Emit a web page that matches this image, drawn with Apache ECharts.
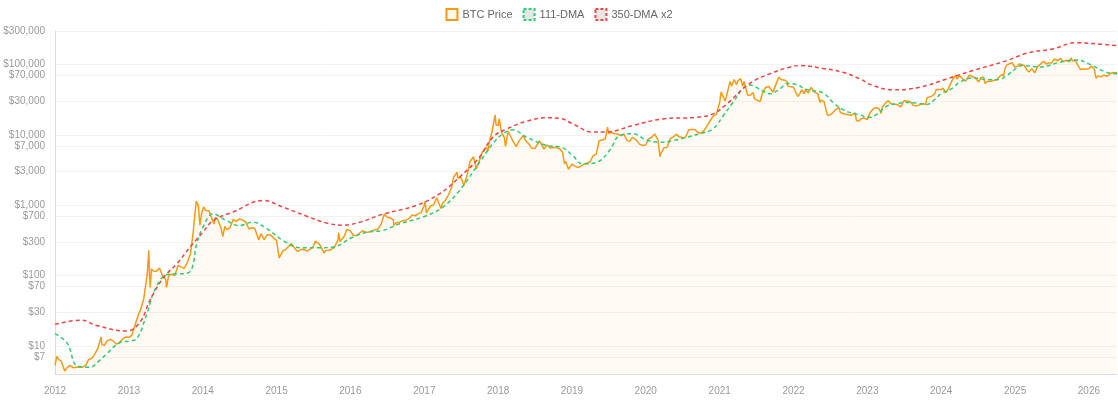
<!DOCTYPE html>
<html>
<head>
<meta charset="utf-8">
<script src="https://cdn.jsdelivr.net/npm/echarts@6/dist/echarts.min.js"></script>
<style>
  html, body { margin: 0; padding: 0; background: #fff; }
  #main { width: 1118px; height: 400px; }
</style>
</head>
<body>
<div id="main"></div>
<script>
// BTC price, sampled roughly twice a month plus the main highs/lows
const priceDates = [
  '2012-01-01','2012-01-10','2012-01-20','2012-02-01','2012-02-18','2012-03-01','2012-03-15','2012-04-01','2012-04-15','2012-05-01','2012-05-15','2012-06-01','2012-06-15','2012-07-01','2012-07-15','2012-08-01','2012-08-16','2012-08-20','2012-09-01','2012-09-15','2012-10-01','2012-10-15','2012-11-01','2012-11-15','2012-12-01','2012-12-15',
  '2013-01-01','2013-01-15','2013-02-01','2013-02-15','2013-03-01','2013-03-15','2013-04-01','2013-04-09','2013-04-12','2013-04-16','2013-04-22','2013-05-01','2013-05-15','2013-06-01','2013-06-15','2013-07-01','2013-07-06','2013-07-15','2013-08-01','2013-08-15','2013-09-01','2013-09-15','2013-10-01','2013-10-15','2013-11-01','2013-11-15','2013-11-19','2013-11-30','2013-12-04','2013-12-10','2013-12-18','2013-12-26',
  '2014-01-05','2014-01-15','2014-02-01','2014-02-15','2014-02-25','2014-03-05','2014-03-15','2014-04-01','2014-04-10','2014-04-20','2014-05-01','2014-05-15','2014-06-01','2014-06-15','2014-07-01','2014-07-15','2014-08-01','2014-08-18','2014-09-01','2014-09-15','2014-10-05','2014-10-15','2014-11-01','2014-11-15','2014-12-01','2014-12-15',
  '2015-01-01','2015-01-14','2015-02-01','2015-02-15','2015-03-01','2015-03-15','2015-04-01','2015-04-15','2015-05-01','2015-05-15','2015-06-01','2015-06-15','2015-07-01','2015-07-12','2015-08-01','2015-08-24','2015-09-01','2015-09-15','2015-10-01','2015-10-15','2015-11-01','2015-11-04','2015-11-11','2015-11-20','2015-12-01','2015-12-15',
  '2016-01-01','2016-01-15','2016-02-01','2016-02-15','2016-03-01','2016-03-15','2016-04-01','2016-04-15','2016-05-01','2016-05-15','2016-06-01','2016-06-17','2016-07-01','2016-07-15','2016-08-01','2016-08-03','2016-08-15','2016-09-01','2016-09-15','2016-10-01','2016-10-15','2016-11-01','2016-11-15','2016-12-01','2016-12-15',
  '2017-01-01','2017-01-04','2017-01-11','2017-01-15','2017-02-01','2017-02-15','2017-03-03','2017-03-24','2017-04-01','2017-04-15','2017-05-01','2017-05-15','2017-05-25','2017-06-01','2017-06-12','2017-06-15','2017-07-01','2017-07-16','2017-08-01','2017-08-15','2017-09-01','2017-09-15','2017-10-01','2017-10-15','2017-11-01','2017-11-12','2017-11-15','2017-12-01','2017-12-17','2017-12-22',
  '2018-01-01','2018-01-06','2018-01-17','2018-02-01','2018-02-06','2018-02-20','2018-03-01','2018-03-15','2018-04-01','2018-04-15','2018-05-05','2018-05-15','2018-06-01','2018-06-15','2018-07-01','2018-07-24','2018-08-01','2018-08-15','2018-09-01','2018-09-15','2018-10-01','2018-10-15','2018-11-01','2018-11-15','2018-11-25','2018-12-01','2018-12-15',
  '2019-01-01','2019-01-15','2019-02-01','2019-02-15','2019-03-01','2019-03-15','2019-04-01','2019-04-15','2019-05-01','2019-05-15','2019-06-01','2019-06-15','2019-06-26','2019-07-01','2019-07-15','2019-08-01','2019-08-15','2019-09-01','2019-09-15','2019-10-01','2019-10-15','2019-10-26','2019-11-01','2019-11-15','2019-12-01','2019-12-15',
  '2020-01-01','2020-01-15','2020-02-01','2020-02-14','2020-03-01','2020-03-12','2020-03-15','2020-04-01','2020-04-15','2020-05-01','2020-05-15','2020-06-01','2020-06-15','2020-07-01','2020-07-15','2020-08-01','2020-08-15','2020-09-01','2020-09-15','2020-10-01','2020-10-15','2020-11-01','2020-11-15','2020-12-01','2020-12-15',
  '2021-01-01','2021-01-08','2021-01-15','2021-01-27','2021-02-01','2021-02-15','2021-02-21','2021-03-01','2021-03-13','2021-03-25','2021-04-01','2021-04-14','2021-04-25','2021-05-01','2021-05-10','2021-05-19','2021-06-01','2021-06-15','2021-06-22','2021-07-01','2021-07-20','2021-08-01','2021-08-15','2021-09-01','2021-09-07','2021-09-21','2021-10-01','2021-10-20','2021-11-01','2021-11-10','2021-11-20','2021-12-01','2021-12-04','2021-12-15',
  '2022-01-01','2022-01-22','2022-02-01','2022-02-10','2022-02-24','2022-03-01','2022-03-15','2022-03-29','2022-04-15','2022-05-01','2022-05-12','2022-05-15','2022-06-01','2022-06-18','2022-07-01','2022-07-15','2022-08-01','2022-08-14','2022-08-20','2022-09-01','2022-09-15','2022-10-01','2022-10-15','2022-11-01','2022-11-09','2022-11-21','2022-12-01','2022-12-15',
  '2023-01-01','2023-01-15','2023-02-01','2023-02-15','2023-03-01','2023-03-10','2023-03-15','2023-04-01','2023-04-14','2023-05-01','2023-05-15','2023-06-01','2023-06-15','2023-07-01','2023-07-15','2023-08-01','2023-08-18','2023-09-01','2023-09-15','2023-10-01','2023-10-15','2023-10-24','2023-11-01','2023-11-15','2023-12-01','2023-12-08','2023-12-15',
  '2024-01-01','2024-01-11','2024-01-23','2024-02-01','2024-02-15','2024-02-28','2024-03-14','2024-03-19','2024-04-01','2024-04-15','2024-05-01','2024-05-20','2024-06-01','2024-06-15','2024-07-05','2024-07-15','2024-07-29','2024-08-05','2024-08-15','2024-09-01','2024-09-06','2024-09-15','2024-10-01','2024-10-15','2024-10-29','2024-11-04','2024-11-13','2024-11-22','2024-12-01','2024-12-17','2024-12-30',
  '2025-01-13','2025-01-20','2025-02-01','2025-02-15','2025-02-28','2025-03-10','2025-03-24','2025-04-08','2025-04-22','2025-05-01','2025-05-22','2025-06-05','2025-06-15','2025-06-22','2025-07-01','2025-07-14','2025-08-01','2025-08-13','2025-08-25','2025-09-01','2025-09-15','2025-09-25','2025-10-06','2025-10-10','2025-10-17','2025-10-27','2025-11-04','2025-11-13','2025-11-21','2025-12-01','2025-12-10','2025-12-18',
  '2026-01-01','2026-01-14','2026-01-28','2026-02-05','2026-02-15','2026-03-01','2026-03-15','2026-04-01','2026-04-15','2026-05-01','2026-05-10','2026-05-20'
];
const priceValues = [
  5.3,7.1,6.4,6.1,4.4,4.9,5.3,4.9,5.0,5.0,5.0,5.3,6.4,6.7,7.6,9.4,13.5,10.5,10.2,11.8,12.4,11.8,10.6,11.3,12.6,13.4,
  13.3,14.2,20.4,27,34,47,104,230,110,68,125,116,115,128,101,89,68,98,105,100,140,133,127,150,205,420,580,1150,1200,980,520,760,
  950,850,830,650,540,670,635,480,360,500,450,480,630,590,640,620,580,460,480,470,320,395,325,380,380,350,
  315,178,225,235,260,285,245,220,235,237,223,236,260,310,280,210,228,230,237,255,325,410,305,325,360,455,
  434,375,372,400,435,415,417,430,450,455,535,750,675,665,620,520,565,575,605,615,640,730,710,755,780,
  1000,1140,780,820,985,1010,1280,900,1080,1180,1420,1750,2500,2450,2950,2450,2480,1930,2720,4200,4900,3300,4400,5700,6700,5900,7300,10900,19300,13800,
  13600,17100,11100,9100,6900,11200,10900,8200,6800,8300,9700,8500,7500,6500,6400,8200,7600,6300,7200,6500,6600,6600,6350,5700,3900,4200,3250,
  3850,3600,3450,3600,3820,3950,4150,5050,5350,8200,8550,8800,12900,10600,10800,10400,10300,9750,10300,8300,8150,9250,9200,8500,7400,7100,
  7200,8800,9350,10350,8550,4900,5400,6600,6650,8850,9300,10200,9400,9230,9200,11800,11900,11900,10800,10600,11500,13700,15900,18800,19400,
  29400,40800,36800,30400,33500,48700,57500,49600,61200,52000,58800,63500,49000,57800,55900,37000,36600,40200,32500,33500,29800,39900,47100,48800,46900,40600,48200,66000,61300,65000,59700,57200,49400,48900,
  47700,35100,38700,43900,38300,44400,39300,47400,40500,38500,28900,31300,29800,19000,19300,20800,23300,24400,21100,20100,19700,19300,19100,20500,15900,15800,17000,17400,
  16600,20900,23700,24300,23600,20200,24300,28500,30500,27600,27200,26800,25100,30600,30300,29700,26100,25900,26600,27900,27000,33900,35400,35500,38700,44200,41900,
  44200,46300,39500,43100,51900,62500,71400,62000,69700,63400,58300,71400,67800,66200,56700,64800,66800,54000,57500,57300,53900,59200,60800,67000,72700,67800,90500,98900,97200,106100,92300,
  94500,102000,100600,97500,84400,78500,87500,76300,93400,96500,111600,101500,105500,100900,105700,119800,113300,123300,110100,109200,115300,109000,124700,113200,106500,114100,101500,99700,85000,86300,92000,85500,
  88000,95000,86000,64000,69000,67000,71000,68000,74000,77000,80000,76500
];

// 111-day moving average
const dma111Dates = [
  '2012-01-01','2012-03-01','2012-04-20','2012-06-20','2012-08-10','2012-09-12','2012-11-17','2013-01-07','2013-02-10','2013-03-31','2013-05-08','2013-07-08','2013-08-25','2013-10-15','2013-11-10','2013-12-02',
  '2014-01-02','2014-02-21','2014-04-27','2014-07-01','2014-09-05','2014-11-13','2015-02-02','2015-04-28','2015-08-04','2015-10-05','2016-01-12','2016-03-21','2016-06-09','2016-09-01','2016-12-25',
  '2017-04-02','2017-06-24','2017-10-01','2017-12-05','2018-01-25','2018-03-15','2018-05-21','2018-08-30','2018-11-10','2019-01-04','2019-02-23','2019-05-04','2019-07-06','2019-08-25','2019-10-30',
  '2020-01-04','2020-03-10','2020-05-15','2020-07-23','2020-09-24','2020-11-29','2021-01-19','2021-03-08','2021-04-25','2021-05-27','2021-07-16','2021-09-03','2021-10-26','2021-12-01',
  '2022-01-15','2022-03-10','2022-05-27','2022-07-15','2022-09-01','2022-10-15','2022-11-20','2023-01-08','2023-02-20','2023-04-05','2023-06-01','2023-07-10','2023-09-01','2023-10-20','2023-12-01',
  '2024-01-01','2024-03-01','2024-04-01','2024-06-06','2024-08-28','2024-10-15','2024-11-21','2025-01-10','2025-02-10','2025-05-05','2025-08-10','2025-11-01','2026-01-01','2026-03-28','2026-05-20'
];
const dma111Values = [
  15,11,5.2,5.0,6.3,7.7,11.2,11.8,12.8,29,62,104,106,108,131,284,
  488,757,608,516,575,466,316,249,249,254,351,415,438,546,680,
  940,1625,4080,7480,10400,11800,9300,7070,6690,5110,3880,4090,6020,9800,10400,
  8500,7900,8320,9300,10400,12200,18900,29100,45100,51400,45100,38400,45100,54000,
  52000,44000,39500,29000,23000,20500,19500,17800,19900,25500,28000,28800,28500,27000,32000,
  38500,47000,56000,64700,60600,61500,69800,90000,96800,92000,108000,116600,102300,77800,73800
];

// 350-day moving average x2
const dma350Dates = [
  '2012-01-01','2012-05-10','2012-07-26','2012-12-20','2013-02-25','2013-04-15','2013-06-22','2013-08-25','2013-10-30','2014-01-02','2014-02-21','2014-05-30','2014-10-27',
  '2015-02-02','2015-05-30','2015-09-05','2015-11-25','2016-02-17','2016-06-10','2016-11-24','2017-03-18','2017-06-24','2017-10-01','2017-12-06',
  '2018-02-14','2018-05-21','2018-08-30','2018-11-03','2019-01-04','2019-04-12','2019-06-20','2019-10-30','2020-03-25','2020-09-08','2020-11-28',
  '2021-02-05','2021-05-26','2021-09-05','2021-12-12','2022-02-03','2022-05-27','2022-09-02','2022-11-25','2023-01-30','2023-05-08','2023-09-17',
  '2024-01-29','2024-06-06','2024-11-21','2025-02-27','2025-07-06','2025-11-02','2026-01-20','2026-05-20'
];
const dma350Values = [
  20.3,23.3,19.5,16.3,22,45,95,147,254,415,608,800,1170,
  940,700,560,520,575,748,1000,1460,2510,4840,9300,
  12200,15600,17500,17200,14400,11000,11000,13600,16900,17800,19900,
  27500,53200,73800,91700,96800,88000,77800,62600,50300,43700,47600,
  62600,82200,113800,144700,167000,205000,199000,186000
];

const yTicks = [7, 10, 30, 70, 100, 300, 700, 1000, 3000, 7000, 10000, 30000, 70000, 100000, 300000];

const toPairs = (dates, values) => dates.map((d, i) => [d, values[i]]);

const chart = echarts.init(document.getElementById('main'));
const DAY = 24 * 3600 * 1000;

chart.setOption({
  animation: false,
  textStyle: { fontFamily: 'Liberation Sans, Arial, sans-serif' },
  legend: {
    top: 3,
    left: 'center',
    icon: 'rect',
    itemWidth: 11,
    itemHeight: 11,
    itemGap: 10,
    textStyle: { color: '#666', fontSize: 11 },
    data: [
      { name: 'BTC Price', itemStyle: { color: '#fff8ec', borderColor: '#f59a14', borderWidth: 2 } },
      { name: '111-DMA', itemStyle: { color: '#e6e6e6', borderColor: '#2ecc71', borderWidth: 2, borderType: [3, 2] } },
      { name: '350-DMA x2', itemStyle: { color: '#e6e6e6', borderColor: '#ef4444', borderWidth: 2, borderType: [3, 2] } }
    ]
  },
  grid: { left: 55, right: 1, top: 31, bottom: 26, containLabel: false, outerBoundsMode: 'none' },
  xAxis: {
    type: 'time',
    min: '2012-01-01',
    max: '2026-05-20',
    minInterval: 365 * DAY,
    maxInterval: 366 * DAY,
    axisLine: { lineStyle: { color: '#ddd' } },
    axisTick: { show: false },
    splitLine: { show: false },
    axisLabel: { color: '#999', fontSize: 10, margin: 12, formatter: '{yyyy}' }
  },
  yAxis: {
    type: 'log',
    logBase: 10,
    min: 4,
    max: 300000,
    axisLine: { show: true, lineStyle: { color: '#ddd' } },
    axisTick: { show: false, customValues: yTicks },
    splitLine: { show: true, lineStyle: { color: '#f2f2f2' } },
    axisLabel: {
      customValues: yTicks,
      color: '#999',
      fontSize: 10,
      margin: 10,
      formatter: v => '$' + Math.round(v).toLocaleString('en-US')
    }
  },
  series: [
    {
      name: 'BTC Price',
      type: 'line',
      data: toPairs(priceDates, priceValues),
      showSymbol: false,
      color: '#f59a14',
      lineStyle: { width: 1.5, color: '#f59a14' },
      areaStyle: { color: 'rgba(247,160,30,0.07)', origin: 'start' }
    },
    {
      name: '111-DMA',
      type: 'line',
      data: toPairs(dma111Dates, dma111Values),
      showSymbol: false,
      smooth: 0.4,
      color: '#2ecc71',
      lineStyle: { width: 1.5, color: '#2ecc71', type: [4, 3] }
    },
    {
      name: '350-DMA x2',
      type: 'line',
      data: toPairs(dma350Dates, dma350Values),
      showSymbol: false,
      smooth: 0.4,
      color: '#ef4444',
      lineStyle: { width: 1.5, color: '#ef4444', type: [4, 3] }
    }
  ]
});
window.addEventListener('resize', () => chart.resize());
</script>
</body>
</html>
